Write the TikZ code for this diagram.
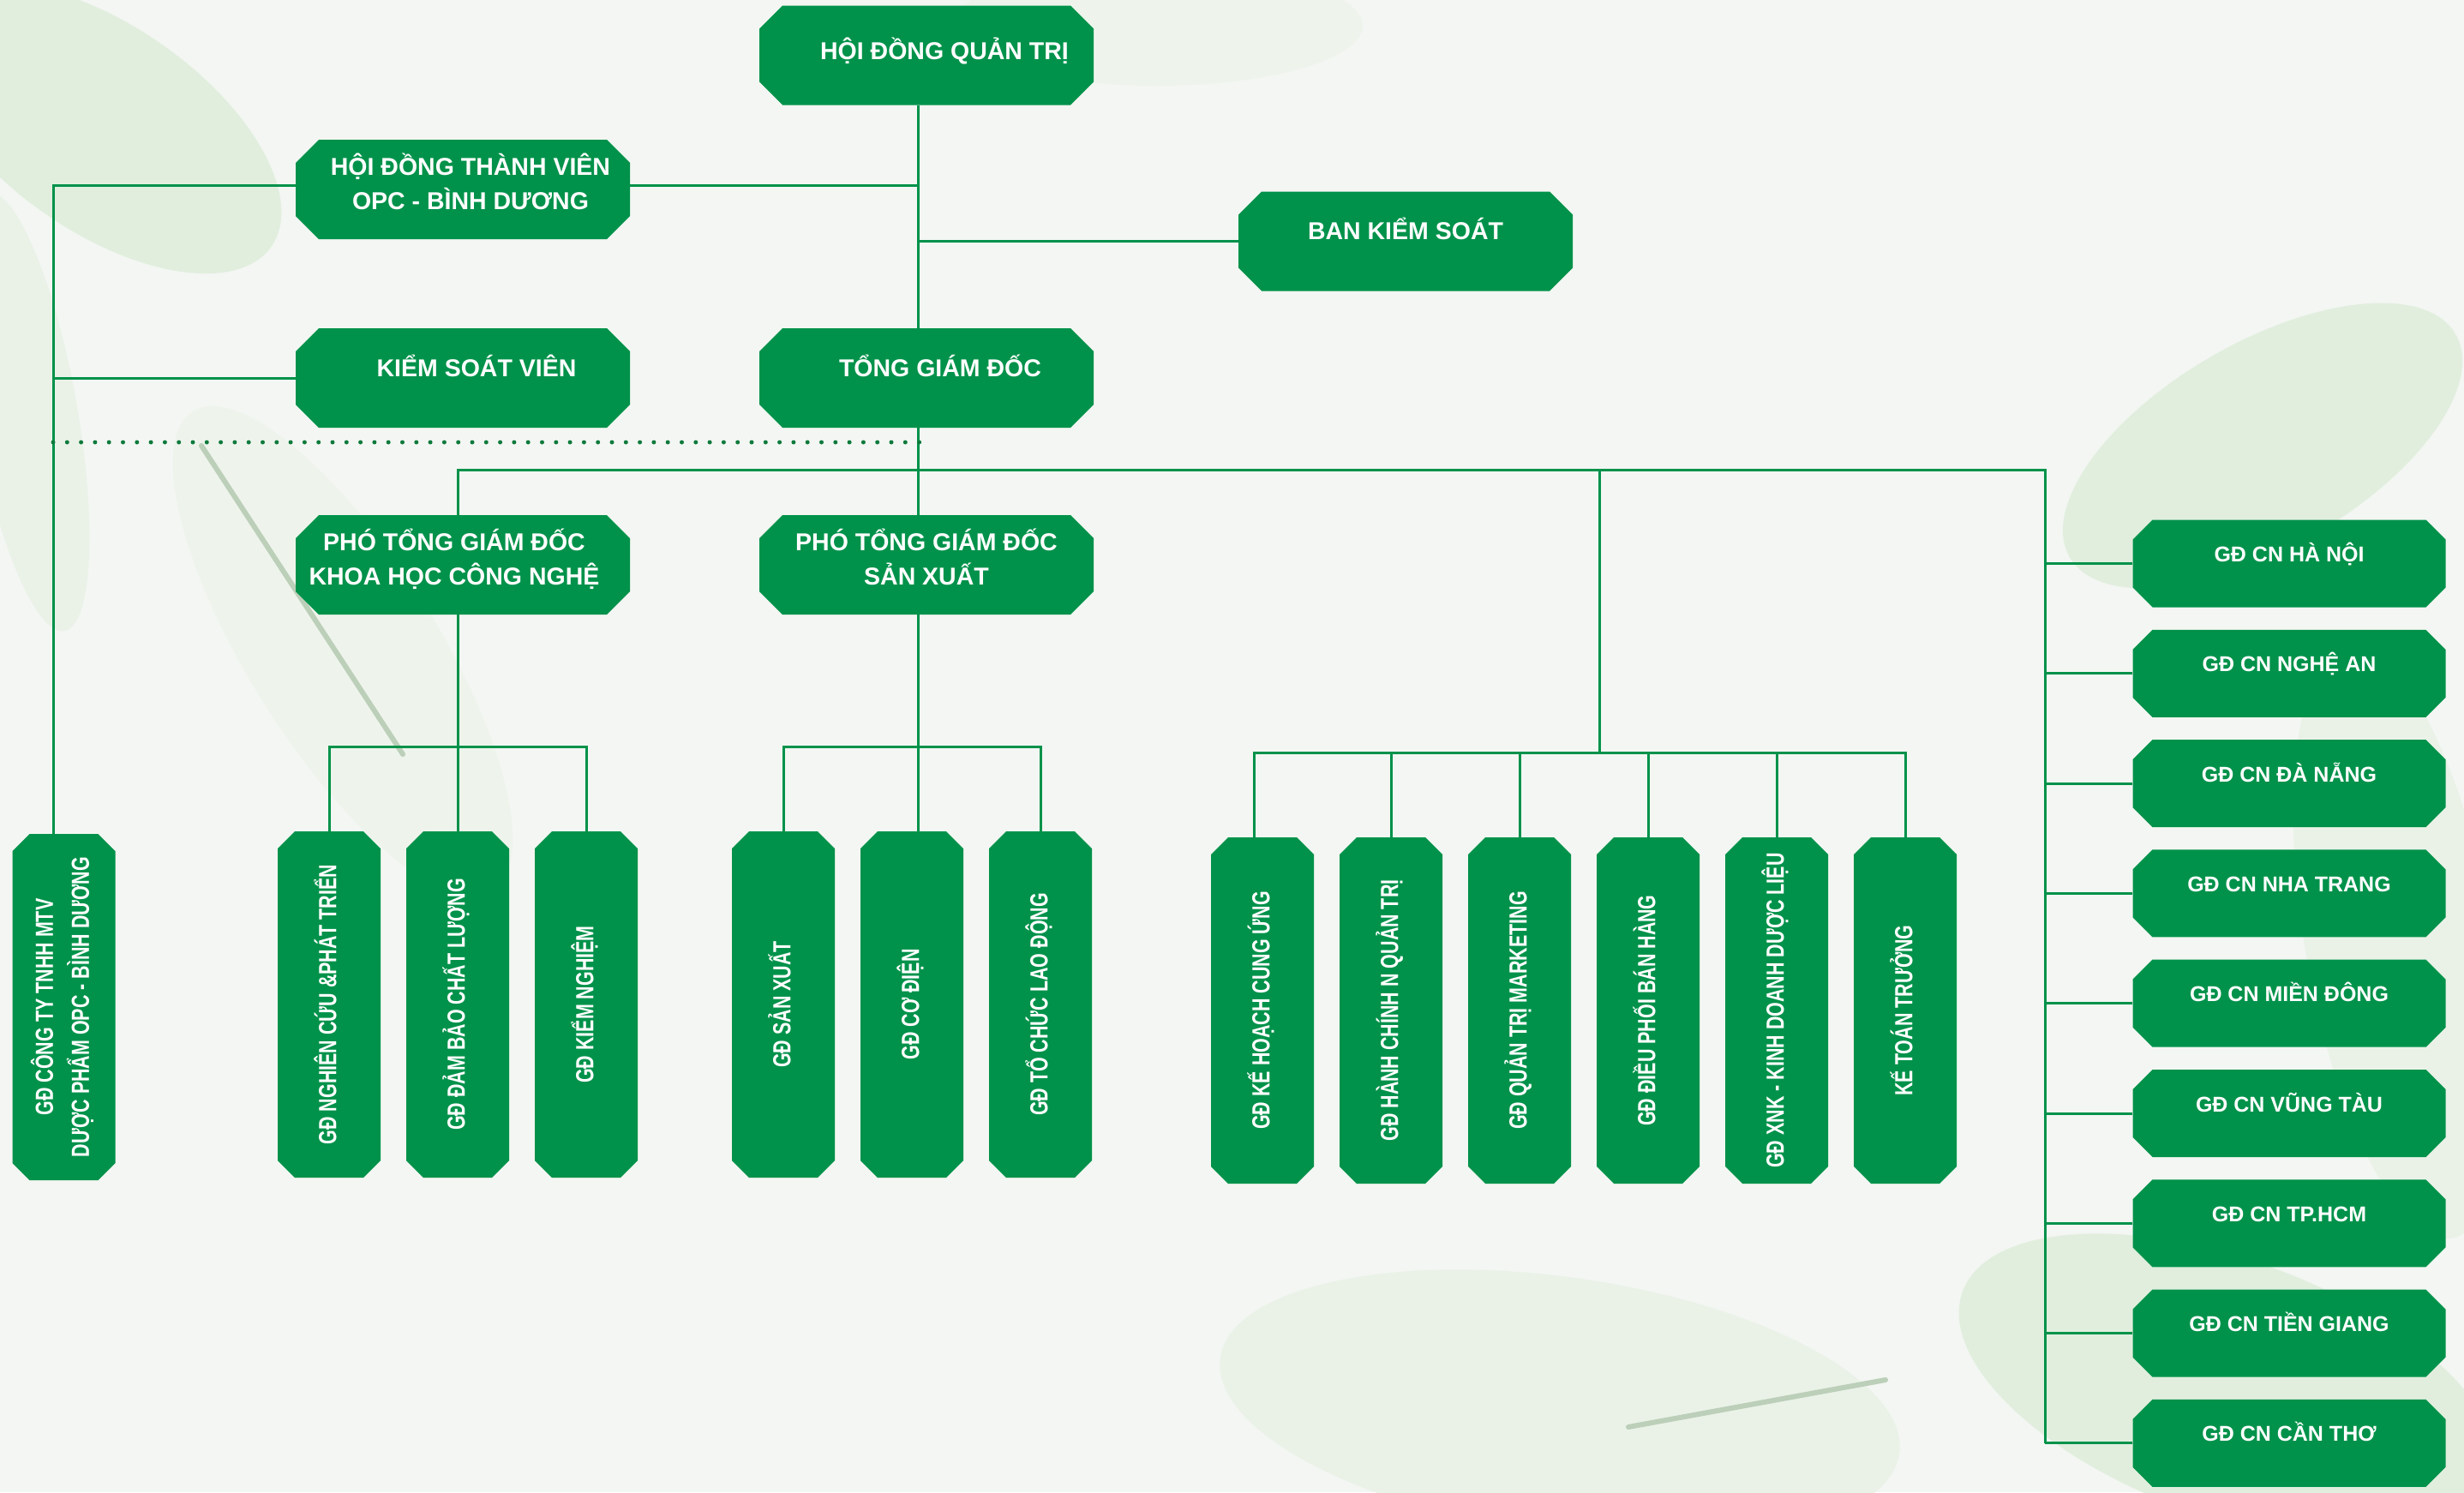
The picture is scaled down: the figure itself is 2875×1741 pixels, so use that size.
\documentclass[tikz,border=0pt]{standalone}
\usepackage{fontspec}
\setmainfont{Liberation Sans}
\newfontfamily\narrowfont{Liberation Sans}[FakeStretch=0.74]
\usepackage{graphicx}
\definecolor{opcgreen}{HTML}{00924A}
\definecolor{dotgreen}{HTML}{0E7A3C}
\definecolor{paper}{HTML}{F3F6F2}
\definecolor{leafa}{HTML}{E1EEDE}
\definecolor{leafb}{HTML}{EAF2E8}
\definecolor{leafc}{HTML}{EEF4EC}
\definecolor{vein}{HTML}{BCCFB9}
\tikzset{octagon/.style={path picture={\fill[opcgreen]
  ([xshift=#1]path picture bounding box.north west) -- ([xshift=-#1]path picture bounding box.north east) --
  ([yshift=-#1]path picture bounding box.north east) -- ([yshift=#1]path picture bounding box.south east) --
  ([xshift=-#1]path picture bounding box.south east) -- ([xshift=#1]path picture bounding box.south west) --
  ([yshift=#1]path picture bounding box.south west) -- ([yshift=-#1]path picture bounding box.north west) -- cycle;}}}
\tikzstyle{topbox} = [rectangle, inner sep=0pt, octagon=13.5pt, minimum width=195pt, minimum height=58pt, text=white, align=center, font=\bfseries\fontsize{14.25}{20}\selectfont]
\tikzstyle{raised} = [text height=10pt, text depth=11.8pt]
\tikzstyle{twolines} = [text height=34pt, text depth=11pt]
\tikzstyle{tallbox} = [rectangle, inner sep=0pt, octagon=10pt, minimum width=60pt, minimum height=202pt, text=white, font=\narrowfont\bfseries\fontsize{14.5}{21}\selectfont]
\tikzstyle{cnbox} = [rectangle, inner sep=0pt, octagon=11.5pt, minimum width=182.5pt, minimum height=51pt, text=white, font=\bfseries\fontsize{12.5}{15}\selectfont, text height=9pt, text depth=11pt]
\tikzstyle{link} = [draw=opcgreen, line width=1.5pt]
\tikzstyle{dots} = [draw=dotgreen, line width=2.5pt, line cap=round, dash pattern=on 0pt off 8.15pt]
\newcommand{\vlabel}[1]{\rotatebox{90}{\begin{tabular}{@{}c@{}}#1\end{tabular}}}

\begin{document}
\begin{tikzpicture}[x=0.5pt, y=-0.5pt, node distance=75pt]

  % paper first, it also fixes the size of the picture
  \fill [paper] (0,0) rectangle (2875,1741);
  \useasboundingbox (0,0) rectangle (2875,1741);
  \fill [leafa, rotate around={-35:(120,150)}] (120,150) ellipse (240 and 120);
  \fill [leafb, rotate around={-80:(30,480)}] (30,480) ellipse (260 and 60);
  \fill [leafc, rotate around={-58:(400,760)}] (400,760) ellipse (330 and 110);
  \draw [vein, line width=3pt, line cap=round] (235,520) -- (470,880);
  \fill [leafc] (1350,30) ellipse (240 and 70);
  \fill [leafa, rotate around={30:(2640,520)}] (2640,520) ellipse (260 and 120);
  \fill [leafb, rotate around={-80:(2800,1100)}] (2800,1100) ellipse (350 and 110);
  \fill [leafa, rotate around={-20:(2600,1620)}] (2600,1620) ellipse (330 and 150);
  \fill [leafb, rotate around={-8:(1820,1640)}] (1820,1640) ellipse (400 and 150);
  \draw [vein, line width=3pt, line cap=round] (1900,1665) -- (2200,1610);

  % board level
  \node [topbox, text height=10.2pt, text depth=5pt] (hdqt) at (1081,64.5) {\hspace*{21pt}HỘI ĐỒNG QUẢN TRỊ};
  \node [topbox, twolines] (hdtv) at (540,221) {\hspace*{9pt}HỘI ĐỒNG THÀNH VIÊN\\\hspace*{9pt}OPC - BÌNH DƯƠNG};
  \node [topbox, raised] (bks) at (1640,281.5) {BAN KIỂM SOÁT};
  \node [topbox, raised] (ksv) at (540,441) {\hspace*{16pt}KIỂM SOÁT VIÊN};
  \node [topbox, raised] (tgd) at (1081,441) {\hspace*{16pt}TỔNG GIÁM ĐỐC};
  \node [topbox, twolines] (ptkh) at (540,659) {PHÓ TỔNG GIÁM ĐỐC\hspace*{10pt}\\KHOA HỌC CÔNG NGHỆ\hspace*{10pt}};
  \node [topbox, twolines] (ptsx) at (1081,659) {PHÓ TỔNG GIÁM ĐỐC\\SẢN XUẤT};

  % directors, bottom row
  \node [tallbox] (bd) at (74.5,1175) {\vlabel{GĐ CÔNG TY TNHH MTV\\DƯỢC PHẨM OPC - BÌNH DƯƠNG}};
  \node [tallbox] (kh1) at (384,1172) {\vlabel{GĐ NGHIÊN CỨU \&PHÁT TRIỂN}};
  \node [tallbox, right of=kh1] (kh2) {\vlabel{GĐ ĐẢM BẢO CHẤT LƯỢNG}};
  \node [tallbox, right of=kh2] (kh3) {\vlabel{GĐ KIỂM NGHIỆM}};
  \node [tallbox] (sx1) at (914,1172) {\vlabel{GĐ SẢN XUẤT}};
  \node [tallbox, right of=sx1] (sx2) {\vlabel{GĐ CƠ ĐIỆN}};
  \node [tallbox, right of=sx2] (sx3) {\vlabel{GĐ TỔ CHỨC LAO ĐỘNG}};
  \node [tallbox] (kd1) at (1473,1179) {\vlabel{GĐ KẾ HOẠCH CUNG ỨNG}};
  \node [tallbox, right of=kd1] (kd2) {\vlabel{GĐ HÀNH CHÍNH N QUẢN TRỊ}};
  \node [tallbox, right of=kd2] (kd3) {\vlabel{GĐ QUẢN TRỊ MARKETING}};
  \node [tallbox, right of=kd3] (kd4) {\vlabel{GĐ ĐIỀU PHỐI BÁN HÀNG}};
  \node [tallbox, right of=kd4] (kd5) {\vlabel{GĐ XNK - KINH DOANH DƯỢC LIỆU}};
  \node [tallbox, right of=kd5] (kd6) {\vlabel{KẾ TOÁN TRƯỞNG}};

  % branches, right column
  \node [cnbox] (cn1) at (2671,657.5) {GĐ CN HÀ NỘI};
  \node [cnbox, below of=cn1, node distance=64.15pt] (cn2) {GĐ CN NGHỆ AN};
  \node [cnbox, below of=cn2, node distance=64.15pt] (cn3) {GĐ CN ĐÀ NẴNG};
  \node [cnbox, below of=cn3, node distance=64.15pt] (cn4) {GĐ CN NHA TRANG};
  \node [cnbox, below of=cn4, node distance=64.15pt] (cn5) {GĐ CN MIỀN ĐÔNG};
  \node [cnbox, below of=cn5, node distance=64.15pt] (cn6) {GĐ CN VŨNG TÀU};
  \node [cnbox, below of=cn6, node distance=64.15pt] (cn7) {GĐ CN TP.HCM};
  \node [cnbox, below of=cn7, node distance=64.15pt] (cn8) {GĐ CN TIỀN GIANG};
  \node [cnbox, below of=cn8, node distance=64.15pt] (cn9) {GĐ CN CẦN THƠ};

  % helper points for the long lines
  \coordinate (lft) at (62,0);
  \coordinate (trunk) at (1071,0);
  \coordinate (rgt) at (2386,548);
  \coordinate (kdtop) at (1866,548);
  \coordinate (khbus) at (0,871);
  \coordinate (sxbus) at (0,871);
  \coordinate (kdbus) at (0,878);
  \coordinate (dotl) at (62,516);
  \coordinate (dotr) at (1073,516);

  % connectors
  \draw [link] (hdqt.south -| trunk) -- (tgd.north -| trunk);
  \draw [link] ([yshift=2.5pt]hdtv.east) -- ([yshift=2.5pt]hdtv.east -| trunk);
  \draw [link] (bks.west) -- (bks.west -| trunk);
  \draw [link] ([yshift=2.5pt]hdtv.west) -| (bd.north -| lft);
  \draw [link] (ksv.west) -- (ksv.west -| lft);
  \draw [link] (tgd.south -| trunk) -- (ptsx.north -| trunk);
  \draw [link] (ptsx.south -| trunk) -- (sx2.north -| trunk);
  \draw [dots] (dotl) -- (dotr);

  \draw [link] (ptkh.north -| kh2.north) |- (rgt) -- (rgt |- cn9.west);
  \draw [link] (ptkh.south -| kh2.north) -- (kh2.north);
  \draw [link] (kh1.north) |- (khbus -| kh3.north) -- (kh3.north);
  \draw [link] (sx1.north) |- (sxbus -| sx3.north) -- (sx3.north);

  \draw [link] (kdtop) -- (kdtop |- kdbus);
  \draw [link] ([xshift=-5pt]kd1.north) |- (kdbus -| kd6.north) -- (kd6.north);
  \draw [link] (kd2.north) -- (kd2.north |- kdbus);
  \draw [link] (kd3.north) -- (kd3.north |- kdbus);
  \draw [link] (kd4.north) -- (kd4.north |- kdbus);
  \draw [link] (kd5.north) -- (kd5.north |- kdbus);

  \draw [link] (cn1.west) -- (cn1.west -| rgt);
  \draw [link] (cn2.west) -- (cn2.west -| rgt);
  \draw [link] (cn3.west) -- (cn3.west -| rgt);
  \draw [link] (cn4.west) -- (cn4.west -| rgt);
  \draw [link] (cn5.west) -- (cn5.west -| rgt);
  \draw [link] (cn6.west) -- (cn6.west -| rgt);
  \draw [link] (cn7.west) -- (cn7.west -| rgt);
  \draw [link] (cn8.west) -- (cn8.west -| rgt);
  \draw [link] (cn9.west) -- (cn9.west -| rgt);

\end{tikzpicture}
\end{document}
